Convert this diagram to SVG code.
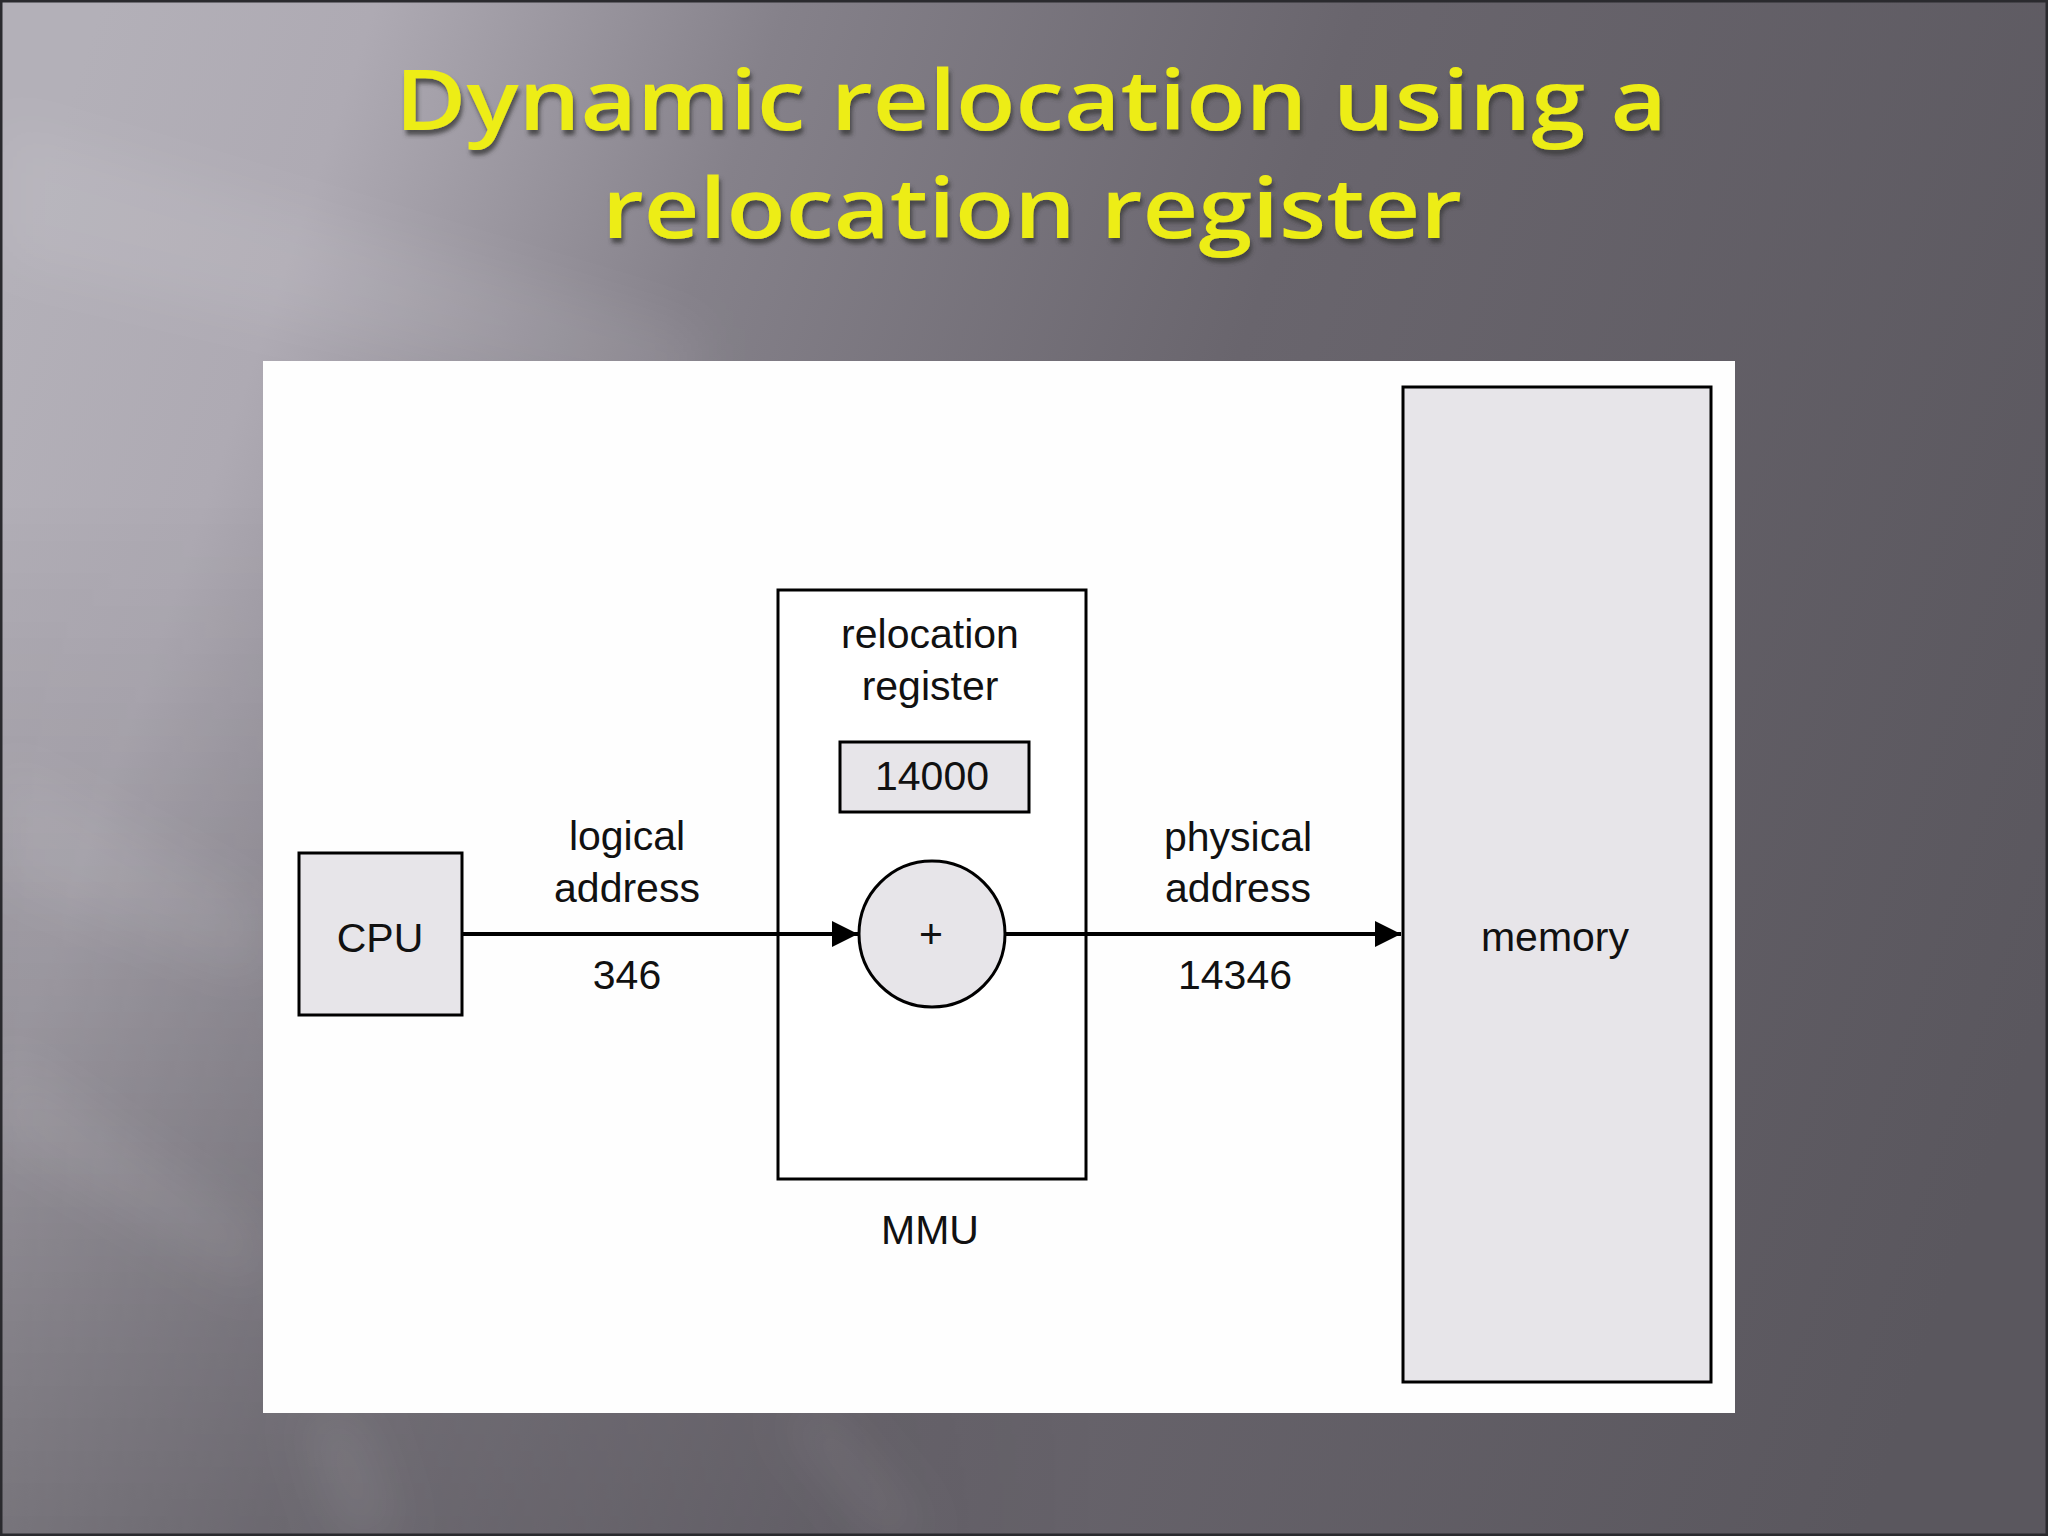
<svg xmlns="http://www.w3.org/2000/svg" width="2048" height="1536" viewBox="0 0 2048 1536">
<defs>
<linearGradient id="bg" gradientUnits="userSpaceOnUse" x1="0" y1="300" x2="2048" y2="1000">
<stop offset="0" stop-color="#b3b0b8"/>
<stop offset="0.12" stop-color="#aeaab3"/>
<stop offset="0.3" stop-color="#85818a"/>
<stop offset="0.55" stop-color="#69656d"/>
<stop offset="1" stop-color="#5a575e"/>
</linearGradient>
<linearGradient id="shade" gradientUnits="userSpaceOnUse" x1="0" y1="500" x2="0" y2="1536">
<stop offset="0" stop-color="#000" stop-opacity="0"/>
<stop offset="1" stop-color="#000" stop-opacity="0.25"/>
</linearGradient>
<linearGradient id="fadeH" gradientUnits="userSpaceOnUse" x1="0" y1="0" x2="1100" y2="0">
<stop offset="0" stop-color="#fff"/>
<stop offset="1" stop-color="#000"/>
</linearGradient>
<mask id="leftMask">
<rect x="0" y="0" width="2048" height="1536" fill="url(#fadeH)"/>
</mask>
<filter id="soft" x="-50%" y="-50%" width="200%" height="200%">
<feGaussianBlur stdDeviation="25"/>
</filter>
<filter id="tshadow" x="-5%" y="-20%" width="110%" height="150%">
<feGaussianBlur in="SourceAlpha" stdDeviation="2"/>
<feOffset dx="2" dy="5" result="o"/>
<feFlood flood-color="#3a3a3a" flood-opacity="0.8"/>
<feComposite in2="o" operator="in"/>
<feMerge><feMergeNode/><feMergeNode in="SourceGraphic"/></feMerge>
</filter>
<marker id="arr" viewBox="0 0 10 10" refX="10" refY="5" markerWidth="34" markerHeight="26" markerUnits="userSpaceOnUse" orient="auto">
<path d="M0,0 L10,5 L0,10 z" fill="#000"/>
</marker>
<style>
.box{fill:#e7e5e9;stroke:#000;stroke-width:3}
.wbox{fill:#ffffff;stroke:#000;stroke-width:3}
.lbl{font-family:"Liberation Sans",Arial,Helvetica,sans-serif;font-size:41px;fill:#111;text-anchor:middle}
.title{font-family:"Open Sans","DejaVu Sans",sans-serif;font-weight:600;font-size:84px;fill:#eded14;text-anchor:middle}
.conn{stroke:#000;stroke-width:4;fill:none}
</style>
</defs>
<rect x="0" y="0" width="2048" height="1536" fill="url(#bg)"/>
<rect x="0" y="0" width="2048" height="1536" fill="url(#shade)" mask="url(#leftMask)"/>
<g filter="url(#soft)" fill="#ffffff" fill-opacity="0.07">
<polygon points="0,120 700,330 700,420 0,260"/>
<polygon points="0,760 260,900 260,980 0,880"/>
<polygon points="0,1050 260,1230 260,1290 0,1140"/>
</g>
<g filter="url(#soft)" fill="#ffffff" fill-opacity="0.08">
<polygon points="300,1413 360,1413 400,1536 340,1536"/>
<polygon points="780,1413 830,1413 930,1536 880,1536"/>
</g>
<rect x="1" y="1" width="2046" height="1534" fill="none" stroke="#2a2a2e" stroke-width="3"/>
<g id="title" filter="url(#tshadow)">
<text class="title" x="1031" y="130" textLength="1272" lengthAdjust="spacingAndGlyphs">Dynamic relocation using a</text>
<text class="title" x="1032" y="238" textLength="860" lengthAdjust="spacingAndGlyphs">relocation register</text>
</g>
<rect id="panel" x="263" y="361" width="1472" height="1052" fill="#fefefe"/>
<g id="memory">
<rect class="box" x="1403" y="387" width="308" height="995"/>
<text class="lbl" x="1555" y="951">memory</text>
</g>
<g id="mmu">
<rect class="wbox" x="778" y="590" width="308" height="589"/>
<text class="lbl" x="930" y="1244">MMU</text>
<text class="lbl" x="930" y="648">relocation</text>
<text class="lbl" x="930" y="700">register</text>
</g>
<g id="reg">
<rect class="box" x="840" y="742" width="189" height="70"/>
<text class="lbl" x="932" y="790">14000</text>
</g>
<g id="cpu">
<rect class="box" x="299" y="853" width="163" height="162"/>
<text class="lbl" x="380" y="952">CPU</text>
</g>
<g id="adder">
<circle cx="932" cy="934" r="73" fill="#e7e5e9" stroke="#000" stroke-width="3"/>
<text class="lbl" x="931" y="948">+</text>
</g>
<g id="connectors">
<line class="conn" x1="462" y1="934" x2="858" y2="934" marker-end="url(#arr)"/>
<line class="conn" x1="1005" y1="934" x2="1401" y2="934" marker-end="url(#arr)"/>
</g>
<g id="labels">
<text class="lbl" x="627" y="850">logical</text>
<text class="lbl" x="627" y="902">address</text>
<text class="lbl" x="627" y="989">346</text>
<text class="lbl" x="1238" y="851">physical</text>
<text class="lbl" x="1238" y="902">address</text>
<text class="lbl" x="1235" y="989">14346</text>
</g>
</svg>
